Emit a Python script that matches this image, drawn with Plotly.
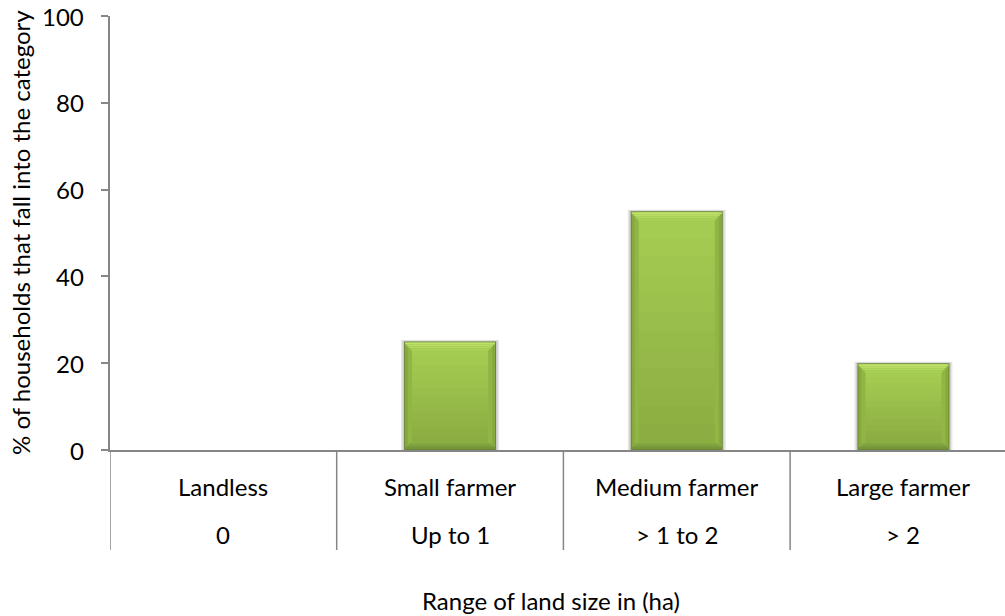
import plotly.graph_objects as go

# ---- data -------------------------------------------------------------
categories = ["Landless", "Small farmer", "Medium farmer", "Large farmer"]
land_ranges = ["0", "Up to 1", "> 1 to 2", "> 2"]
households_pct = [0, 25, 55, 20]
y_ticks = [0, 20, 40, 60, 80, 100]

y_title = "% of households that fall into the category"
x_title = "Range of land size in (ha)"

# ---- geometry ---------------------------------------------------------
W_FIG, H_FIG = 1005, 616
M_L, M_R, M_T, M_B = 110, 0, 16, 166
PLOT_W = W_FIG - M_L - M_R
PLOT_H = H_FIG - M_T - M_B
CAT_PX = 226.7                      # pixel width of one category slot
X_RANGE = [-0.5, -0.5 + PLOT_W / CAT_PX]
PX_X = 1.0 / CAT_PX                 # one pixel in category units
PX_Y = 100.0 / PLOT_H               # one pixel in value units
BAR_PX = 92

FONT = "Lato, Calibri, sans-serif"
AXIS_COLOR = "#868686"

xs = list(range(len(categories)))
fig = go.Figure()


def add_layer(width_px, span, color, opacity=1.0):
    """Overlay bar layer; span(v) -> (low, high) in value units."""
    bases, heights = [], []
    for v in households_pct:
        if v <= 0:
            bases.append(0)
            heights.append(0)
            continue
        lo, hi = span(v)
        bases.append(lo)
        heights.append(max(hi - lo, 0))
    fig.add_trace(go.Bar(
        x=xs, y=heights, base=bases, width=width_px * PX_X,
        marker=dict(color=color, line=dict(width=0)), opacity=opacity,
        hoverinfo="skip", showlegend=False,
    ))


def mix(c1, c2, t):
    a = [int(c1[i:i + 2], 16) for i in (1, 3, 5)]
    b = [int(c2[i:i + 2], 16) for i in (1, 3, 5)]
    return "#" + "".join(f"{round(a[k] + (b[k] - a[k]) * t):02x}" for k in range(3))


# soft shadow around the bars
add_layer(BAR_PX + 6, lambda v: (0, v + 1.5 * PX_Y), "#c9c9c9", 0.45)
add_layer(BAR_PX + 3, lambda v: (0, v + 0.8 * PX_Y), "#b5b5b5", 0.5)
# dark outline
add_layer(BAR_PX, lambda v: (0, v), "#6b8735")
# side bevels
add_layer(BAR_PX - 2, lambda v: (1 * PX_Y, v - 1 * PX_Y), "#87aa3e")
add_layer(BAR_PX - 8, lambda v: (1 * PX_Y, v - 1 * PX_Y), "#91b646")

# body with vertical shading
BOT_BEVEL, TOP_BEVEL = 7, 8
N_BANDS = 12
for k in range(N_BANDS):
    t = k / (N_BANDS - 1)
    add_layer(
        BAR_PX - 16,
        lambda v, k=k: (
            BOT_BEVEL * PX_Y + (v - (TOP_BEVEL + BOT_BEVEL) * PX_Y) * k / N_BANDS,
            BOT_BEVEL * PX_Y + (v - (TOP_BEVEL + BOT_BEVEL) * PX_Y) * (k + 1) / N_BANDS + 0.3 * PX_Y,
        ),
        mix("#8cad42", "#a5cc52", t),
    )

# top bevel (mitred light band)
for j in range(4):
    add_layer(
        BAR_PX - 2 - 4 * j,
        lambda v, j=j: (v - (1 + 2 * (j + 1)) * PX_Y, v - (1 + 2 * j) * PX_Y),
        mix("#bfe26a", "#aad157", j / 3),
    )

# bottom bevel (mitred dark band)
for j in range(3):
    add_layer(
        BAR_PX - 2 - 4 * j,
        lambda v, j=j: ((1 + 2 * j) * PX_Y, (1 + 2 * (j + 1)) * PX_Y),
        mix("#76953a", "#84a63f", j / 2),
    )

# ---- labels and dividers ---------------------------------------------
def paper_y(py):
    return (M_T + PLOT_H - py) / PLOT_H


def paper_x(px):
    return (px - M_L) / PLOT_W


TEXT_FONT = dict(family=FONT, size=24, color="#000000")

annotations = []
# value-axis tick labels
for tv in y_ticks:
    annotations.append(dict(x=paper_x(86), y=tv, xref="paper", yref="y", text=str(tv),
                            showarrow=False, xanchor="right", yanchor="middle",
                            font=TEXT_FONT))
# two-level category labels
for i, (cat, rng) in enumerate(zip(categories, land_ranges)):
    annotations.append(dict(x=i, y=paper_y(486), xref="x", yref="paper", text=cat,
                            showarrow=False, xanchor="center", yanchor="middle",
                            font=TEXT_FONT))
    annotations.append(dict(x=i, y=paper_y(534), xref="x", yref="paper", text=rng,
                            showarrow=False, xanchor="center", yanchor="middle",
                            font=TEXT_FONT))

annotations.append(dict(x=paper_x(551), y=paper_y(600), xref="paper", yref="paper",
                        text=x_title, showarrow=False, xanchor="center", yanchor="middle",
                        font=TEXT_FONT))
annotations.append(dict(x=paper_x(20), y=0.5, xref="paper", yref="paper",
                        text=y_title, showarrow=False, textangle=-90,
                        xanchor="center", yanchor="middle", font=TEXT_FONT))

shapes = []
for edge in [-0.5] + [i + 0.5 for i in range(len(categories) - 1)]:
    shapes.append(dict(type="line", xref="x", yref="paper", x0=edge, x1=edge,
                       y0=0, y1=paper_y(550), line=dict(color=AXIS_COLOR, width=1.5)))

fig.update_layout(
    width=W_FIG, height=H_FIG,
    margin=dict(l=M_L, r=M_R, t=M_T, b=M_B, pad=0),
    paper_bgcolor="white", plot_bgcolor="white",
    barmode="overlay",
    annotations=annotations, shapes=shapes,
    xaxis=dict(range=X_RANGE, showticklabels=False, ticks="", showgrid=False,
               zeroline=False, showline=True, linecolor=AXIS_COLOR, linewidth=1.5,
               fixedrange=True),
    yaxis=dict(range=[0, 100], tickvals=y_ticks, ticks="outside", ticklen=7,
               tickcolor=AXIS_COLOR, tickwidth=1.5, showline=True,
               linecolor=AXIS_COLOR, linewidth=1.5, showgrid=False, zeroline=False,
               showticklabels=False, fixedrange=True),
    showlegend=False,
)

fig.write_html("out.html")
